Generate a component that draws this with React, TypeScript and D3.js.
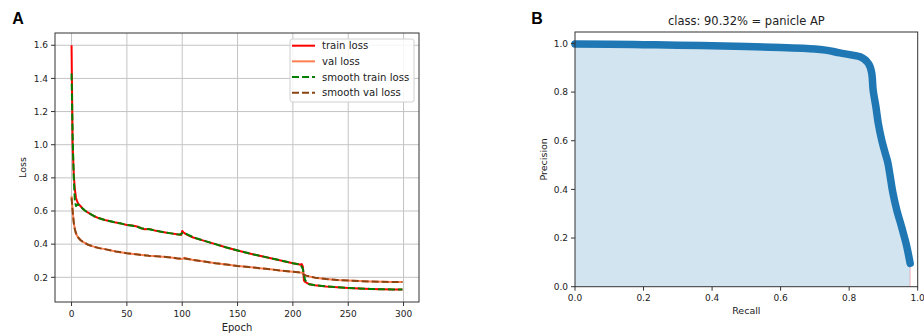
import React from "react";
import * as d3 from "d3";

// ---------- Panel A data ----------
const trainEpochs = [0, 1, 2, 3, 4, 5, 6, 8, 10, 12, 15, 18, 20, 25, 30, 35, 40, 45, 50, 55, 60, 63, 66, 70, 75, 80, 85, 90, 95, 98, 99, 100, 101, 103, 105, 110, 120, 130, 140, 150, 160, 170, 180, 190, 200, 205, 207, 208, 209, 210, 211, 213, 215, 220, 230, 240, 250, 260, 270, 280, 290, 299];
const trainLoss = [1.6, 1.0, 0.82, 0.73, 0.68, 0.66, 0.645, 0.63, 0.615, 0.603, 0.59, 0.578, 0.57, 0.556, 0.546, 0.538, 0.53, 0.524, 0.516, 0.512, 0.505, 0.496, 0.49, 0.492, 0.483, 0.476, 0.47, 0.465, 0.46, 0.457, 0.455, 0.48, 0.472, 0.462, 0.455, 0.44, 0.42, 0.40, 0.38, 0.362, 0.345, 0.33, 0.315, 0.30, 0.285, 0.279, 0.276, 0.28, 0.265, 0.18, 0.172, 0.165, 0.158, 0.152, 0.145, 0.14, 0.136, 0.133, 0.13, 0.128, 0.127, 0.126];

const valEpochs = [0, 1, 2, 3, 4, 5, 6, 8, 10, 12, 15, 20, 25, 30, 40, 50, 60, 70, 80, 85, 90, 95, 98, 100, 102, 105, 110, 120, 130, 140, 150, 160, 170, 180, 190, 200, 205, 208, 209, 210, 212, 215, 220, 230, 240, 250, 260, 270, 280, 290, 299];
const valLoss = [0.69, 0.6, 0.53, 0.49, 0.465, 0.45, 0.44, 0.425, 0.415, 0.408, 0.396, 0.385, 0.376, 0.37, 0.356, 0.345, 0.337, 0.33, 0.325, 0.323, 0.32, 0.314, 0.31, 0.31, 0.318, 0.312, 0.305, 0.295, 0.285, 0.277, 0.268, 0.262, 0.255, 0.248, 0.24, 0.234, 0.23, 0.228, 0.226, 0.214, 0.21, 0.205, 0.198, 0.19, 0.184, 0.18, 0.177, 0.175, 0.173, 0.172, 0.172];

const smoothTrainEpochs = [0, 1, 2, 3, 4, 5, 6, 8, 10, 12, 15, 18, 20, 25, 30, 35, 40, 45, 50, 55, 60, 63, 66, 70, 75, 80, 85, 90, 95, 98, 100, 102, 105, 110, 120, 130, 140, 150, 160, 170, 180, 190, 200, 205, 207, 209, 210, 211, 213, 215, 220, 230, 240, 250, 260, 270, 280, 290, 299];
const smoothTrainLoss = [1.43, 1.05, 0.8, 0.66, 0.63, 0.636, 0.64, 0.63, 0.615, 0.603, 0.59, 0.578, 0.57, 0.556, 0.546, 0.538, 0.53, 0.524, 0.516, 0.511, 0.503, 0.496, 0.492, 0.49, 0.483, 0.476, 0.47, 0.465, 0.46, 0.458, 0.466, 0.468, 0.458, 0.441, 0.42, 0.40, 0.38, 0.362, 0.345, 0.33, 0.315, 0.30, 0.285, 0.279, 0.275, 0.25, 0.215, 0.185, 0.165, 0.158, 0.152, 0.145, 0.14, 0.136, 0.133, 0.13, 0.128, 0.127, 0.126];

const smoothValEpochs = [0, 1, 2, 3, 4, 5, 6, 8, 10, 12, 15, 20, 25, 30, 40, 50, 60, 70, 80, 90, 95, 100, 102, 105, 110, 120, 130, 140, 150, 160, 170, 180, 190, 200, 205, 208, 210, 212, 215, 220, 230, 240, 250, 260, 270, 280, 290, 299];
const smoothValLoss = [0.68, 0.6, 0.53, 0.49, 0.466, 0.451, 0.44, 0.425, 0.415, 0.408, 0.396, 0.385, 0.376, 0.37, 0.356, 0.345, 0.337, 0.33, 0.325, 0.32, 0.315, 0.312, 0.314, 0.311, 0.305, 0.295, 0.285, 0.277, 0.268, 0.262, 0.255, 0.248, 0.24, 0.234, 0.23, 0.226, 0.216, 0.21, 0.205, 0.198, 0.19, 0.184, 0.18, 0.177, 0.175, 0.173, 0.172, 0.172];

const lossXTicks = [0, 50, 100, 150, 200, 250, 300];
const lossYTicks = [0.2, 0.4, 0.6, 0.8, 1.0, 1.2, 1.4, 1.6];
const legendLabels = ["train loss", "val loss", "smooth train loss", "smooth val loss"];

// ---------- Panel B data ----------
const recall = [0, 0.1, 0.2, 0.3, 0.4, 0.5, 0.6, 0.7, 0.773, 0.832, 0.856, 0.866, 0.87, 0.878, 0.885, 0.895, 0.905, 0.912, 0.919, 0.927, 0.939, 0.953, 0.966, 0.978];
const precision = [0.998, 0.997, 0.995, 0.993, 0.99, 0.987, 0.983, 0.977, 0.961, 0.945, 0.918, 0.877, 0.808, 0.74, 0.671, 0.603, 0.55, 0.515, 0.46, 0.39, 0.315, 0.246, 0.178, 0.096];
const prTicks = [0.0, 0.2, 0.4, 0.6, 0.8, 1.0];
const prTitle = "class: 90.32% = panicle AP";

const FONT = "DejaVu Sans, sans-serif";
const TXT = "#222";

export default function App() {
  // Panel A scales
  const ax = d3.scaleLinear().domain([-14.95, 313.95]).range([55, 419]);
  const ay = d3.scaleLinear().domain([0.051, 1.674]).range([302, 33]);
  const A = { l: 55, r: 419, t: 33, b: 302 };

  const lineA = (xs: number[], ys: number[]) =>
    d3.line<number>().x((_, i) => ax(xs[i])).y((d) => ay(d))(ys) || "";

  // Panel B scales
  const bx = d3.scaleLinear().domain([0, 1]).range([575, 917.7]);
  const by = d3.scaleLinear().domain([0, 1.047]).range([286.7, 32]);
  const B = { l: 575, r: 917.7, t: 32, b: 286.7 };

  const prLine = d3.line<number>().x((_, i) => bx(recall[i])).y((d) => by(d)).curve(d3.curveMonotoneY)(precision) || "";
  const prArea =
    d3
      .area<number>()
      .x((_, i) => bx(recall[i]))
      .y0(by(0))
      .y1((d) => by(d))(precision) || "";

  const legendColors = ["red", "#ff7f50", "green", "#8b4513"];
  const legendDash = [null, null, "7,3", "7,3"];

  return (
    <svg
      width={924}
      height={333}
      style={{ position: "absolute", left: 0, top: 0, background: "#fff" }}
      fontFamily={FONT}
    >
      <rect x={0} y={0} width={924} height={333} fill="#fff" />

      {/* ---------------- Panel A ---------------- */}
      <text x={18} y={24} fontSize={16} fontWeight="bold" textAnchor="middle" fill="#000" fontFamily="Liberation Sans, Arial, sans-serif">A</text>

      {/* grid */}
      {lossXTicks.map((t) => (
        <line key={"gx" + t} x1={ax(t)} x2={ax(t)} y1={A.t} y2={A.b} stroke="#c4c4c4" strokeWidth={1} />
      ))}
      {lossYTicks.map((t) => (
        <line key={"gy" + t} x1={A.l} x2={A.r} y1={ay(t)} y2={ay(t)} stroke="#c4c4c4" strokeWidth={1} />
      ))}

      <defs>
        <clipPath id="clipA">
          <rect x={A.l} y={A.t} width={A.r - A.l} height={A.b - A.t} />
        </clipPath>
        <clipPath id="clipB">
          <rect x={B.l} y={B.t} width={B.r - B.l} height={B.b - B.t} />
        </clipPath>
      </defs>

      <g clipPath="url(#clipA)" fill="none" strokeLinejoin="round">
        <path d={lineA(trainEpochs, trainLoss)} stroke="red" strokeWidth={2} />
        <path d={lineA(valEpochs, valLoss)} stroke="#ff7f50" strokeWidth={2} />
        <path d={lineA(smoothTrainEpochs, smoothTrainLoss)} stroke="green" strokeWidth={2} strokeDasharray="7,3" />
        <path d={lineA(smoothValEpochs, smoothValLoss)} stroke="#8b4513" strokeWidth={2} strokeDasharray="7,3" />
      </g>

      {/* frame */}
      <rect x={A.l} y={A.t} width={A.r - A.l} height={A.b - A.t} fill="none" stroke="#333" strokeWidth={1} />

      {/* ticks */}
      {lossXTicks.map((t) => (
        <g key={"tx" + t}>
          <line x1={ax(t)} x2={ax(t)} y1={A.b} y2={A.b + 4} stroke="#333" />
          <text x={ax(t)} y={A.b + 15} fontSize={9} textAnchor="middle" fill={TXT}>{t}</text>
        </g>
      ))}
      {lossYTicks.map((t) => (
        <g key={"ty" + t}>
          <line x1={A.l - 4} x2={A.l} y1={ay(t)} y2={ay(t)} stroke="#333" />
          <text x={A.l - 7} y={ay(t) + 3.2} fontSize={9} textAnchor="end" fill={TXT}>{t.toFixed(1)}</text>
        </g>
      ))}
      <text x={(A.l + A.r) / 2} y={330.5} fontSize={10} textAnchor="middle" fill={TXT}>Epoch</text>
      <text transform={`translate(25.5,${(A.t + A.b) / 2}) rotate(-90)`} fontSize={9.5} textAnchor="middle" fill={TXT}>Loss</text>

      {/* legend */}
      <rect x={290} y={39} width={124} height={63} rx={2.5} fill="#fff" fillOpacity={0.85} stroke="#d0d0d0" strokeWidth={1} />
      {legendLabels.map((lab, i) => {
        const y = 45.7 + i * 15.65;
        return (
          <g key={lab}>
            <line x1={292} x2={315} y1={y} y2={y} stroke={legendColors[i]} strokeWidth={2} strokeDasharray={legendDash[i] || undefined} />
            <text x={322} y={y + 3.6} fontSize={10.1} fill={TXT}>{lab}</text>
          </g>
        );
      })}

      {/* ---------------- Panel B ---------------- */}
      <text x={537} y={24} fontSize={16} fontWeight="bold" textAnchor="middle" fill="#000" fontFamily="Liberation Sans, Arial, sans-serif">B</text>
      <text x={(B.l + B.r) / 2} y={25} fontSize={11.5} textAnchor="middle" fill={TXT}>{prTitle}</text>

      <g clipPath="url(#clipB)">
        <path d={prArea} fill="#1f77b4" fillOpacity={0.2} stroke="none" />
        <line x1={bx(recall[recall.length - 1])} x2={bx(recall[recall.length - 1])} y1={by(0)} y2={by(precision[precision.length - 1])} stroke="red" strokeOpacity={0.25} strokeWidth={1} />
      </g>
      <path d={prLine} fill="none" stroke="#1f77b4" strokeWidth={7.5} strokeLinecap="round" strokeLinejoin="round" />

      <rect x={B.l} y={B.t} width={B.r - B.l} height={B.b - B.t} fill="none" stroke="#333" strokeWidth={1} />

      {prTicks.map((t) => (
        <g key={"bx" + t}>
          <line x1={bx(t)} x2={bx(t)} y1={B.b} y2={B.b + 4} stroke="#333" />
          <text x={bx(t)} y={B.b + 14} fontSize={9} textAnchor="middle" fill={TXT}>{t.toFixed(1)}</text>
        </g>
      ))}
      {prTicks.map((t) => (
        <g key={"by" + t}>
          <line x1={B.l - 4} x2={B.l} y1={by(t)} y2={by(t)} stroke="#333" />
          <text x={B.l - 7} y={by(t) + 3.2} fontSize={9} textAnchor="end" fill={TXT}>{t.toFixed(1)}</text>
        </g>
      ))}
      <text x={(B.l + B.r) / 2} y={314} fontSize={9.5} textAnchor="middle" fill={TXT}>Recall</text>
      <text transform={`translate(546.5,${(B.t + B.b) / 2}) rotate(-90)`} fontSize={9.5} textAnchor="middle" fill={TXT}>Precision</text>
    </svg>
  );
}
